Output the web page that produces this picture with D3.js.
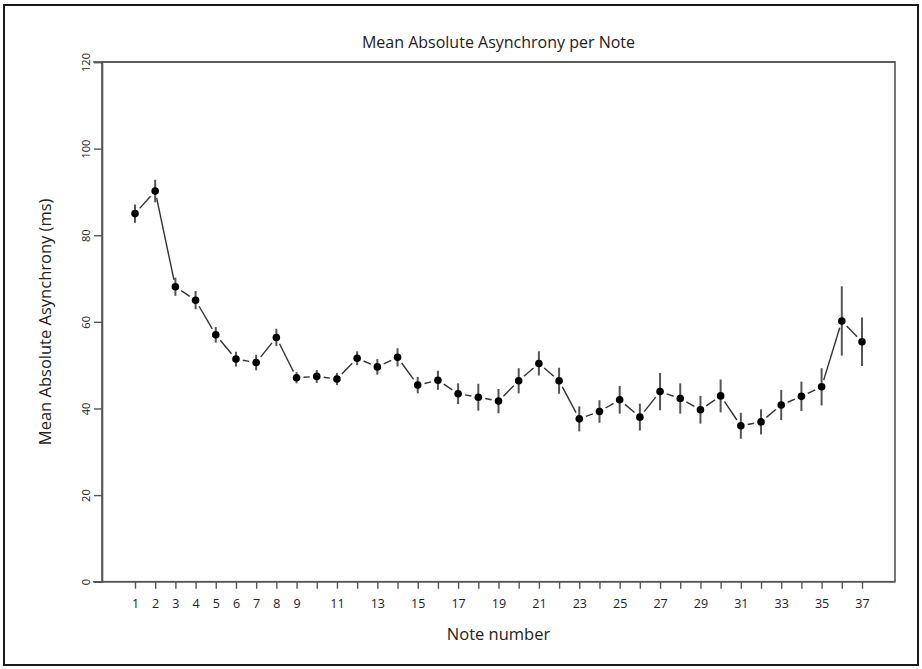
<!DOCTYPE html>
<html>
<head>
<meta charset="utf-8">
<script src="https://cdn.jsdelivr.net/npm/d3@7"></script>
<style>
  html, body { margin: 0; padding: 0; background: #fff; }
  svg { display: block; }
  text { font-family: "Open Sans", "Noto Sans", sans-serif; fill: #222; }
</style>
</head>
<body>
<svg id="chart" width="922" height="669"></svg>
<script>
// ---- data ----
const notes = d3.range(1, 38);
const means = [85.0, 90.2, 68.1, 65.0, 57.0, 51.4, 50.6, 56.4, 47.1, 47.4,
               46.8, 51.6, 49.6, 51.8, 45.4, 46.5, 43.4, 42.6, 41.7, 46.4,
               50.4, 46.4, 37.6, 39.3, 42.0, 38.0, 43.9, 42.3, 39.7, 42.9,
               36.0, 36.9, 40.8, 42.8, 45.0, 60.2, 55.4];
const errors = [2.1, 2.6, 2.1, 2.1, 1.8, 1.7, 1.8, 2.0, 1.3, 1.5,
                1.4, 1.6, 1.8, 2.1, 1.9, 2.2, 2.4, 3.1, 2.8, 2.9,
                2.8, 3.0, 2.9, 2.6, 3.2, 3.1, 4.3, 3.5, 3.2, 3.8,
                3.0, 2.9, 3.5, 3.4, 4.3, 8.0, 5.6];
const xTickValues = d3.range(1, 38);
const xTickLabels = ["1","2","3","4","5","6","7","8","9","","11","","13","","15","","17","","19","",
                     "21","","23","","25","","27","","29","","31","","33","","35","","37"];
const yTickValues = [0, 20, 40, 60, 80, 100, 120];
const title = "Mean Absolute Asynchrony per Note";
const xTitle = "Note number";
const yTitle = "Mean Absolute Asynchrony (ms)";

// ---- layout ----
const svg = d3.select("#chart");
const W = 922, H = 669;
const box = { left: 102, right: 895, top: 62, bottom: 581.7 };

const x = d3.scaleLinear().domain([1, 37]).range([135, 862]);
const y = d3.scaleLinear().domain([0, 120]).range([box.bottom, box.top]);

// outer frame
svg.append("rect")
  .attr("x", 4).attr("y", 5).attr("width", W - 8).attr("height", H - 9)
  .attr("fill", "none").attr("stroke", "#1a1a1a").attr("stroke-width", 2);

// plot box
svg.append("rect")
  .attr("x", box.left).attr("y", box.top)
  .attr("width", box.right - box.left).attr("height", box.bottom - box.top)
  .attr("fill", "none").attr("stroke", "#555").attr("stroke-width", 1.6);

// y axis
const yAxis = d3.axisLeft(y).tickValues(yTickValues).tickSize(8).tickPadding(12).tickFormat(d3.format("d"));
const gy = svg.append("g").attr("transform", `translate(${box.left},0)`).call(yAxis);
gy.select(".domain").attr("stroke", "#555").attr("stroke-width", 1.6);
gy.selectAll(".tick line").attr("stroke", "#555").attr("stroke-width", 1.4);
gy.selectAll(".tick text")
  .attr("transform", "rotate(-90, -16, 0)")
  .attr("x", -16).attr("dy", "0.35em").attr("text-anchor", "middle")
  .attr("font-size", 11).style("fill", "#222");

// x axis
const xAxis = d3.axisBottom(x).tickValues(xTickValues).tickSize(7).tickPadding(10)
  .tickFormat((d, i) => xTickLabels[i]);
const gx = svg.append("g").attr("transform", `translate(0,${box.bottom})`).call(xAxis);
gx.select(".domain").remove();
gx.selectAll(".tick line").attr("stroke", "#555").attr("stroke-width", 1.4);
gx.selectAll(".tick text").attr("font-size", 12.5).style("fill", "#222");
// top and bottom lines extend to the 120 / 0 ticks on the left
[box.bottom, box.top].forEach(yy => {
  svg.append("line")
    .attr("x1", box.left - 9).attr("x2", box.right)
    .attr("y1", yy).attr("y2", yy)
    .attr("stroke", "#555").attr("stroke-width", 1.6);
});

// titles
svg.append("text").attr("x", (box.left + box.right) / 2).attr("y", 48)
  .attr("text-anchor", "middle").attr("font-size", 16).text(title);
svg.append("text").attr("x", (box.left + box.right) / 2).attr("y", 640)
  .attr("text-anchor", "middle").attr("font-size", 16.5).text(xTitle);
svg.append("text")
  .attr("transform", `translate(51,${(box.top + box.bottom) / 2}) rotate(-90)`)
  .attr("text-anchor", "middle").attr("font-size", 16.5).text(yTitle);

// data
const pts = notes.map((n, i) => ({ n, m: means[i], e: errors[i] }));

// connecting segments with gaps (type = "b")
const gap = 7;
const segs = d3.pairs(pts).map(([a, b]) => {
  const x1 = x(a.n), y1 = y(a.m), x2 = x(b.n), y2 = y(b.m);
  const dx = x2 - x1, dy = y2 - y1, L = Math.hypot(dx, dy);
  return { x1: x1 + dx / L * gap, y1: y1 + dy / L * gap, x2: x2 - dx / L * gap, y2: y2 - dy / L * gap, L };
}).filter(s => s.L > 2 * gap);
svg.append("g").selectAll("line").data(segs).join("line")
  .attr("x1", d => d.x1).attr("y1", d => d.y1).attr("x2", d => d.x2).attr("y2", d => d.y2)
  .attr("stroke", "#333").attr("stroke-width", 1.4);

// error bars
svg.append("g").selectAll("line").data(pts).join("line")
  .attr("x1", d => x(d.n)).attr("x2", d => x(d.n))
  .attr("y1", d => y(d.m - d.e)).attr("y2", d => y(d.m + d.e))
  .attr("stroke", "#555").attr("stroke-width", 2);

// points
svg.append("g").selectAll("circle").data(pts).join("circle")
  .attr("cx", d => x(d.n)).attr("cy", d => y(d.m)).attr("r", 3.8)
  .attr("fill", "#000");
</script>
</body>
</html>
